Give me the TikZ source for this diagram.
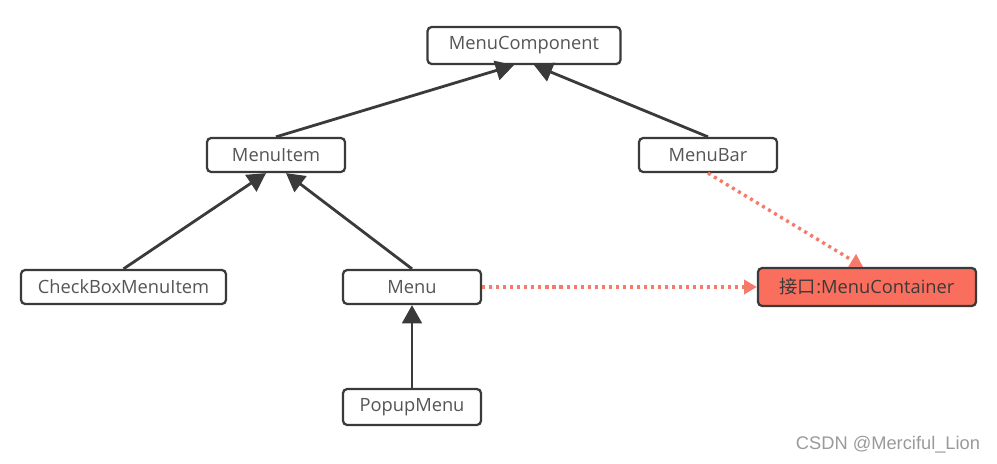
\documentclass[tikz,border=0pt]{standalone}
\usepackage{fontspec}
\setmainfont{Open Sans}
\newfontfamily\cjk{Noto Sans CJK SC}
\newfontfamily\markfont{Liberation Sans}
\usetikzlibrary{arrows.meta}
\definecolor{boxline}{HTML}{3A3A3A}
\definecolor{boxtext}{HTML}{555555}
\definecolor{ifacefill}{HTML}{FA6E5E}
\definecolor{dotred}{HTML}{F67A69}
\definecolor{markgray}{HTML}{9A9A9A}

\begin{document}
\begin{tikzpicture}[x=0.025cm,y=-0.025cm,
    cls/.style={draw=boxline,line width=1.6pt,rounded corners=3pt,fill=white,
      text=boxtext,inner sep=0pt,minimum width=3.45cm,minimum height=0.85cm,
      font=\fontsize{13}{15}\selectfont},
    inherit/.style={draw=boxline,line width=2pt,
      -{Triangle[length=13pt,width=14pt]}},
    realize/.style={draw=dotred,line width=2.4pt,dash pattern=on 2.2pt off 2.8pt,
      -{Triangle[length=9pt,width=10pt,fill=dotred]}}]
    \useasboundingbox (0,0) rectangle (997,464);

    \node[cls,minimum width=4.825cm,minimum height=0.925cm] (mcomp) at (524,45.5) {MenuComponent};
    \node[cls] (mitem) at (276,155) {MenuItem};
    \node[cls] (mbar) at (708,155) {MenuBar};
    \node[cls,minimum width=5.125cm] (cbox) at (123.5,287) {CheckBoxMenuItem};
    \node[cls] (menu) at (412,287) {Menu};
    \node[cls,minimum height=0.9cm] (popup) at (412,407) {PopupMenu};
    \node[cls,fill=ifacefill,text=boxline,minimum width=5.45cm,minimum height=0.95cm] (mcont) at (867,287)
        {{\cjk 接口}:MenuContainer};

    % generalization
    \draw[inherit] (mitem.north) -- ([xshift=-0.25cm]mcomp.south);
    \draw[inherit] (mbar.north) -- ([xshift=0.25cm]mcomp.south);
    \draw[inherit] (cbox.north) -- ([xshift=-0.25cm]mitem.south);
    \draw[inherit] (menu.north) -- ([xshift=0.25cm]mitem.south);
    \draw[inherit] (popup.north) -- (menu.south);

    % realization
    \draw[realize] (mbar.south) -- ([xshift=-0.1cm]mcont.north);
    \draw[realize] (menu.east) -- (mcont.west);

    \node[text=markgray,font=\markfont\fontsize{13}{15}\selectfont] (mark) at (888,445) {CSDN @Merciful\_Lion};
\end{tikzpicture}
\end{document}
